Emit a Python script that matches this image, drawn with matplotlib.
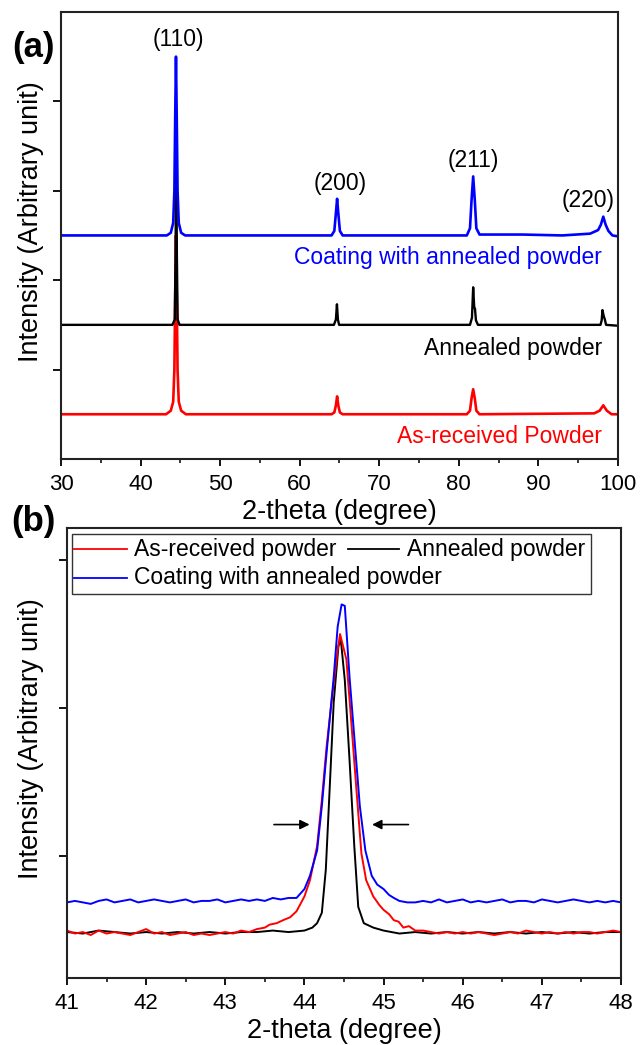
import matplotlib.pyplot as plt
from matplotlib.patches import Rectangle
from matplotlib.lines import Line2D

plt.rcParams['font.family'] = ['Liberation Sans', 'DejaVu Sans']

# ---------------- panel (a): full patterns, offset vertically ----------------
tt_a_blue = [30, 36.0, 40.0, 43.3, 43.8, 44.1, 44.25, 44.35, 44.45, 44.55, 44.65, 44.8, 45.1, 45.6,
             52.0, 58.0, 64.0, 64.35, 64.55, 64.7, 64.85, 65.05, 65.4, 70.0, 76.0,
             81.0, 81.4, 81.6, 81.8, 82.0, 82.2, 82.6, 88.0, 93.0,
             96.5, 97.5, 97.85, 98.15, 98.45, 98.8, 99.3, 100]
i_a_blue = [2.5, 2.5, 2.5, 2.5, 2.53, 2.64, 3.0, 3.8, 4.5, 3.8, 3.0, 2.64, 2.53, 2.5,
            2.5, 2.5, 2.5, 2.55, 2.75, 2.91, 2.75, 2.55, 2.5, 2.5, 2.5,
            2.5, 2.58, 2.9, 3.16, 2.9, 2.58, 2.51, 2.51, 2.5,
            2.52, 2.56, 2.62, 2.71, 2.62, 2.55, 2.5, 2.49]

tt_a_black = [30, 44.0, 44.3, 44.4, 44.48, 44.56, 44.66, 44.9, 64.3, 64.55, 64.68, 64.8, 64.95,
              81.4, 81.65, 81.8, 81.93, 82.03, 82.15, 82.4,
              97.8, 97.95, 98.05, 98.2, 98.35, 98.5, 100]
i_a_black = [1.5, 1.5, 1.56, 2.3, 3.51, 2.3, 1.56, 1.5, 1.5, 1.56, 1.73, 1.56, 1.5,
             1.5, 1.58, 1.92, 1.7, 1.68, 1.55, 1.5,
             1.5, 1.55, 1.665, 1.6, 1.56, 1.5, 1.49]

tt_a_red = [30, 43.2, 43.8, 44.1, 44.25, 44.35, 44.45, 44.55, 44.65, 44.8, 45.1, 45.7,
            64.0, 64.35, 64.55, 64.7, 64.85, 65.05, 65.4,
            81.0, 81.4, 81.6, 81.8, 82.0, 82.2, 82.6,
            97.0, 97.7, 98.15, 98.6, 99.2, 100]
i_a_red = [0.5, 0.5, 0.54, 0.64, 1.0, 1.8, 2.5, 1.8, 1.0, 0.64, 0.54, 0.5,
           0.5, 0.52, 0.6, 0.70, 0.6, 0.52, 0.5,
           0.5, 0.54, 0.68, 0.78, 0.68, 0.54, 0.5,
           0.51, 0.54, 0.60, 0.54, 0.5, 0.5]

peak_labels = ['(110)', '(200)', '(211)', '(220)']
peak_label_x = [44.7, 65.1, 81.85, 96.3]
peak_label_y = [4.69, 3.08, 3.34, 2.89]

# ---------------- panel (b): (110) peak close-up ----------------
tt_b_red = [41.0, 41.1, 41.2, 41.3, 41.4, 41.5, 41.6, 41.7, 41.8, 41.9, 42.0, 42.1, 42.2, 42.3, 42.4,
            42.5, 42.6, 42.7, 42.8, 42.9, 43.0, 43.1, 43.2, 43.3, 43.4, 43.5, 43.56, 43.65, 43.73,
            43.82, 43.9, 44.0, 44.07, 44.16, 44.22, 44.28, 44.35, 44.42, 44.45, 44.53, 44.59,
            44.66, 44.72, 44.78, 44.87, 44.95, 45.0, 45.07, 45.13, 45.19, 45.25, 45.32, 45.4,
            45.5, 45.6, 45.7, 45.8, 45.9, 46.0, 46.1, 46.2, 46.3, 46.4, 46.5, 46.6, 46.7, 46.8,
            46.9, 47.0, 47.1, 47.2, 47.3, 47.4, 47.5, 47.6, 47.7, 47.8, 47.9, 48.0]
i_b_red = [0.50, 0.48, 0.49, 0.47, 0.50, 0.48, 0.49, 0.48, 0.47, 0.49, 0.51, 0.48, 0.49, 0.47, 0.48,
           0.49, 0.47, 0.48, 0.47, 0.48, 0.49, 0.48, 0.50, 0.49, 0.51, 0.52, 0.54, 0.55, 0.57,
           0.59, 0.63, 0.73, 0.84, 1.07, 1.38, 1.74, 2.08, 2.39, 2.50, 2.33, 1.92,
           1.43, 1.02, 0.84, 0.73, 0.67, 0.64, 0.61, 0.57, 0.56, 0.52, 0.53, 0.50,
           0.50, 0.49, 0.48, 0.49, 0.48, 0.49, 0.48, 0.49, 0.48, 0.47, 0.48, 0.49, 0.48, 0.50,
           0.49, 0.48, 0.49, 0.48, 0.49, 0.48, 0.49, 0.49, 0.48, 0.49, 0.50, 0.49]

tt_b_black = [41.0, 41.2, 41.4, 41.6, 41.8, 42.0, 42.2, 42.4, 42.6, 42.8, 43.0, 43.2, 43.4, 43.6,
              43.8, 44.0, 44.1, 44.16, 44.22, 44.27, 44.32, 44.37, 44.43, 44.46, 44.51, 44.57,
              44.63, 44.68, 44.75, 44.87, 45.0, 45.2, 45.4, 45.6, 45.8, 46.0, 46.2, 46.4, 46.6,
              46.8, 47.0, 47.2, 47.4, 47.6, 47.8, 48.0]
i_b_black = [0.49, 0.48, 0.50, 0.49, 0.48, 0.49, 0.48, 0.49, 0.48, 0.49, 0.48, 0.49, 0.49, 0.50,
             0.49, 0.50, 0.52, 0.55, 0.62, 0.91, 1.47, 2.04, 2.42, 2.46, 2.19, 1.65,
             1.07, 0.66, 0.55, 0.52, 0.50, 0.48, 0.49, 0.48, 0.49, 0.48, 0.49, 0.48, 0.49,
             0.48, 0.49, 0.48, 0.49, 0.48, 0.49, 0.49]

tt_b_blue = [41.0, 41.1, 41.2, 41.3, 41.4, 41.5, 41.6, 41.7, 41.8, 41.9, 42.0, 42.1, 42.2, 42.3, 42.4,
             42.5, 42.6, 42.7, 42.8, 42.9, 43.0, 43.1, 43.2, 43.3, 43.4, 43.5, 43.6, 43.7, 43.8,
             43.9, 44.0, 44.07, 44.16, 44.22, 44.28, 44.37, 44.42, 44.47, 44.51, 44.57, 44.64,
             44.70, 44.77, 44.85, 44.92, 45.0, 45.07, 45.13, 45.2, 45.3, 45.4,
             45.5, 45.6, 45.7, 45.8, 45.9, 46.0, 46.1, 46.2, 46.3, 46.4, 46.5, 46.6, 46.7, 46.8,
             46.9, 47.0, 47.1, 47.2, 47.3, 47.4, 47.5, 47.6, 47.7, 47.8, 47.9, 48.0]
i_b_blue = [0.69, 0.70, 0.69, 0.68, 0.70, 0.71, 0.69, 0.70, 0.71, 0.69, 0.70, 0.71, 0.70, 0.69, 0.70,
            0.71, 0.69, 0.70, 0.70, 0.71, 0.69, 0.70, 0.71, 0.70, 0.71, 0.70, 0.72, 0.71, 0.72,
            0.72, 0.78, 0.87, 1.04, 1.34, 1.70, 2.21, 2.55, 2.70, 2.69, 2.21, 1.74,
            1.34, 1.04, 0.87, 0.81, 0.78, 0.74, 0.72, 0.70, 0.69, 0.69,
            0.70, 0.69, 0.71, 0.69, 0.70, 0.71, 0.69, 0.70, 0.69, 0.70, 0.71, 0.69, 0.70, 0.70,
            0.69, 0.71, 0.70, 0.69, 0.70, 0.71, 0.70, 0.69, 0.70, 0.69, 0.70, 0.69]

arrow_y = 1.215
arrow_left = (43.58, 44.10)
arrow_right = (45.35, 44.82)

RED, BLUE, BLACK = '#ff0000', '#0000ff', '#000000'

fig = plt.figure(figsize=(6.4, 10.45), dpi=100)
ax_a = fig.add_axes([0.0953, 0.5608, 0.8703, 0.4278])
ax_b = fig.add_axes([0.1047, 0.0641, 0.8656, 0.4306])


def style_axes(ax):
    for sp in ax.spines.values():
        sp.set_linewidth(1.5)
        sp.set_color('#222222')
    ax.tick_params(which='major', direction='out', length=5, width=1.3, labelsize=16, pad=6)
    ax.tick_params(which='minor', direction='out', length=3, width=1.1)
    ax.tick_params(axis='y', which='major', length=6)
    ax.set_yticklabels([])


# panel (a)
ax_a.plot(tt_a_red, i_a_red, color=RED, lw=1.9)
ax_a.plot(tt_a_black, i_a_black, color=BLACK, lw=1.7)
ax_a.plot(tt_a_blue, i_a_blue, color=BLUE, lw=1.9)
ax_a.set_xlim(30, 100)
ax_a.set_ylim(0, 5)
ax_a.set_xticks(range(30, 101, 10))
ax_a.set_xticks(range(35, 100, 10), minor=True)
ax_a.set_yticks([1, 2, 3, 4])
style_axes(ax_a)
for lab, x, y in zip(peak_labels, peak_label_x, peak_label_y):
    ax_a.text(x, y, lab, ha='center', va='center', fontsize=16.5)
ax_a.text(98.0, 2.257, 'Coating with annealed powder', color=BLUE, ha='right', va='center', fontsize=16.5)
ax_a.text(98.0, 1.24, 'Annealed powder', color=BLACK, ha='right', va='center', fontsize=16.5)
ax_a.text(98.0, 0.246, 'As-received Powder', color=RED, ha='right', va='center', fontsize=16.5)
ax_a.set_xlabel('2-theta (degree)', fontsize=19.5)
ax_a.set_ylabel('Intensity (Arbitrary unit)', fontsize=19.5)
ax_a.xaxis.set_label_coords(0.5, -0.1186)
ax_a.xaxis.label.set_va('center')
ax_a.yaxis.set_label_coords(-0.054, 0.532)
ax_a.yaxis.label.set_va('center')

# panel (b)
ax_b.plot(tt_b_black, i_b_black, color=BLACK, lw=1.4)
ax_b.plot(tt_b_red, i_b_red, color=RED, lw=1.4)
ax_b.plot(tt_b_blue, i_b_blue, color=BLUE, lw=1.4)
ax_b.set_xlim(41, 48)
ax_b.set_ylim(0.18, 3.215)
ax_b.set_xticks(range(41, 49))
ax_b.set_xticks([41.5 + k for k in range(7)], minor=True)
ax_b.set_yticks([1, 2, 3])
style_axes(ax_b)
ax_b.annotate('', xy=(arrow_left[1], arrow_y), xytext=(arrow_left[0], arrow_y),
              arrowprops=dict(arrowstyle='-|>', color='black', lw=1.2, mutation_scale=14))
ax_b.annotate('', xy=(arrow_right[1], arrow_y), xytext=(arrow_right[0], arrow_y),
              arrowprops=dict(arrowstyle='-|>', color='black', lw=1.2, mutation_scale=14))
ax_b.set_xlabel('2-theta (degree)', fontsize=19.5)
ax_b.set_ylabel('Intensity (Arbitrary unit)', fontsize=19.5)
ax_b.xaxis.set_label_coords(0.5, -0.118)
ax_b.xaxis.label.set_va('center')
ax_b.yaxis.set_label_coords(-0.065, 0.532)
ax_b.yaxis.label.set_va('center')

# legend box laid out like the original (two entries on the first row)
ax_b.add_patch(Rectangle((0.009, 0.853), 0.937, 0.134, transform=ax_b.transAxes,
                         fill=False, edgecolor='#333333', lw=1.0))
legend_rows = [(0.013, 0.108, 0.121, 0.953, RED, 'As-received powder'),
               (0.507, 0.599, 0.613, 0.953, BLACK, 'Annealed powder'),
               (0.013, 0.108, 0.121, 0.889, BLUE, 'Coating with annealed powder')]
for x0, x1, xt, yy, c, txt in legend_rows:
    ax_b.add_line(Line2D([x0, x1], [yy, yy], transform=ax_b.transAxes, color=c, lw=1.3))
    ax_b.text(xt, yy, txt, transform=ax_b.transAxes, ha='left', va='center', fontsize=16.5)

fig.text(0.053, 0.955, '(a)', fontsize=25, fontweight='bold', ha='center', va='center')
fig.text(0.053, 0.5005, '(b)', fontsize=25, fontweight='bold', ha='center', va='center')

fig.savefig('out.png', dpi=100)
